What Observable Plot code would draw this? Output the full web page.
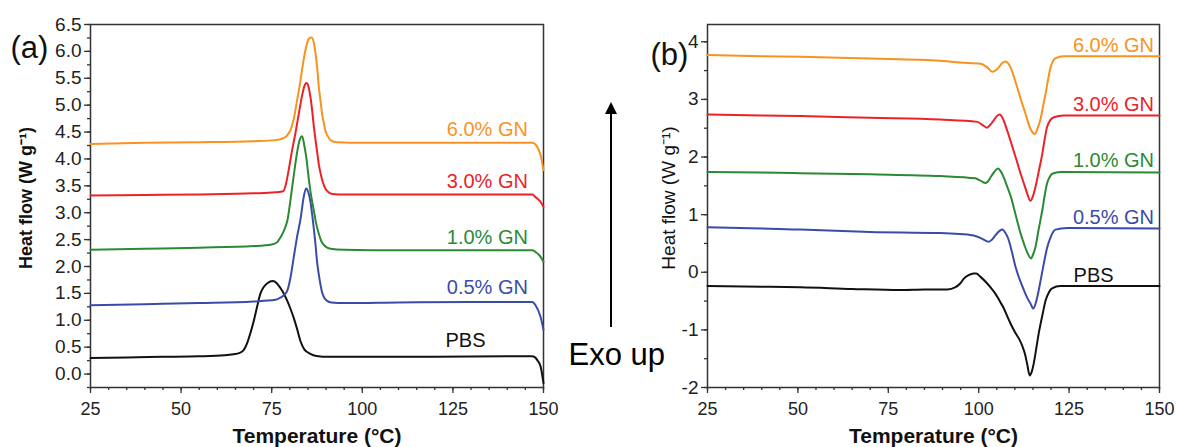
<!DOCTYPE html>
<html><head><meta charset="utf-8">
<script src="https://cdn.jsdelivr.net/npm/d3@7"></script>
<script src="https://cdn.jsdelivr.net/npm/@observablehq/plot@0.6"></script>
<style>
body{margin:0;background:#fff;}
#fig{position:relative;width:1178px;height:447px;font-family:"Liberation Sans",Arial,sans-serif;background:#fff;}
#left{position:absolute;left:0;top:0;}
#right{position:absolute;left:560px;top:0;}
#arrow-line{position:absolute;left:610px;top:112px;width:2px;height:215px;background:#000;}
#arrow-head{position:absolute;left:605px;top:102px;width:0;height:0;border-left:6px solid transparent;border-right:6px solid transparent;border-bottom:12px solid #000;}
</style></head>
<body><div id="fig"><div id="left"></div><div id="right"></div><div id="arrow-line"></div><div id="arrow-head"></div></div>
<script>
// ---------- data ----------
const seriesNames = ["PBS", "0.5% GN", "1.0% GN", "3.0% GN", "6.0% GN"];
const seriesColors = ["#111111", "#3a4ca8", "#2a8a35", "#ec2227", "#f7931e"];

const xTicks = [25, 50, 75, 100, 125, 150];
const xMinorTicks = [25,30,35,40,45,50,55,60,65,70,75,80,85,90,95,100,105,110,115,120,125,130,135,140,145,150];
const yTicksA = [0, 0.5, 1, 1.5, 2, 2.5, 3, 3.5, 4, 4.5, 5, 5.5, 6, 6.5];
const yMinorA = [-0.25,0,0.25,0.5,0.75,1,1.25,1.5,1.75,2,2.25,2.5,2.75,3,3.25,3.5,3.75,4,4.25,4.5,4.75,5,5.25,5.5,5.75,6,6.25,6.5];
const yTicksB = [-2, -1, 0, 1, 2, 3, 4];
const yMinorB = [-2,-1.5,-1,-0.5,0,0.5,1,1.5,2,2.5,3,3.5,4];

// (a) cooling curves: [temperature °C, heat flow W/g]
const aPBS = [[25,0.30],[35,0.31],[45,0.32],[55,0.33],[62,0.35],[64.5,0.37],[66,0.39],[67.2,0.44],[68.2,0.57],[69.2,0.78],[70.1,1.0],[71,1.26],[71.9,1.50],[72.8,1.62],[73.8,1.69],[75.3,1.73],[76.4,1.69],[77.4,1.60],[78.4,1.49],[79.3,1.36],[80.2,1.21],[81.1,1.04],[82,0.84],[83,0.60],[84,0.46],[85,0.40],[86.5,0.35],[88,0.33],[90,0.32],[100,0.32],[120,0.32],[140,0.33],[146.9,0.33],[148.3,0.26],[149.2,0.14],[150,-0.17]];
const a05 = [[25,1.28],[40,1.30],[55,1.32],[70,1.35],[76,1.38],[77.4,1.42],[78.4,1.47],[79.3,1.55],[80.2,1.80],[81.1,2.18],[82,2.55],[83,2.90],[83.8,3.28],[84.5,3.45],[85.1,3.38],[85.7,3.20],[86.2,2.95],[86.6,2.72],[87.1,2.40],[87.5,2.10],[88,1.85],[88.5,1.65],[88.9,1.52],[89.5,1.42],[90.3,1.36],[91.5,1.33],[95,1.32],[110,1.33],[130,1.34],[146.9,1.34],[147.8,1.28],[149.2,1.06],[150,0.82]];
const a10 = [[25,2.31],[40,2.33],[55,2.35],[70,2.38],[75,2.41],[76.5,2.45],[77.4,2.54],[78.2,2.64],[78.8,2.74],[79.4,2.88],[80.2,3.25],[81.1,3.70],[82,4.12],[82.7,4.35],[83.4,4.42],[84,4.25],[84.6,4.00],[85.2,3.65],[85.8,3.35],[86.6,3.05],[87.2,2.82],[88,2.61],[88.7,2.47],[89.4,2.40],[90.3,2.35],[91.2,2.33],[95,2.31],[110,2.30],[130,2.30],[146.9,2.30],[147.8,2.27],[149.2,2.18],[150,2.09]];
const a30 = [[25,3.32],[40,3.33],[55,3.34],[70,3.36],[76,3.38],[78.2,3.40],[78.8,3.50],[79.7,3.80],[80.6,4.15],[81.6,4.50],[82.5,4.85],[83.3,5.15],[84,5.35],[84.6,5.41],[85.2,5.33],[85.7,5.15],[86.2,4.88],[86.6,4.62],[87.1,4.35],[87.6,4.10],[88.0,3.90],[88.5,3.73],[89.1,3.57],[89.8,3.45],[90.7,3.38],[91.7,3.35],[95,3.34],[110,3.34],[130,3.34],[146.9,3.34],[147.8,3.29],[149.2,3.20],[150,3.11]];
const a60 = [[25,4.28],[40,4.30],[55,4.31],[70,4.33],[76,4.35],[78,4.38],[79.3,4.44],[80.2,4.54],[81.1,4.75],[82,5.09],[83,5.48],[83.7,5.80],[84.3,6.02],[85.2,6.23],[86,6.26],[86.6,6.17],[87.1,5.96],[87.6,5.66],[88,5.34],[88.5,5.06],[88.9,4.84],[89.4,4.66],[89.8,4.53],[90.5,4.42],[91.2,4.35],[93,4.31],[100,4.30],[120,4.30],[140,4.30],[146.9,4.30],[148.3,4.22],[149.2,4.07],[150,3.79]];

// (b) heating curves
const bPBS = [[25,-0.24],[40,-0.25],[50.7,-0.26],[65,-0.29],[78.4,-0.31],[85,-0.30],[91.3,-0.30],[93.6,-0.26],[94.8,-0.20],[95.9,-0.11],[97.2,-0.05],[98.6,-0.02],[99.3,-0.02],[100.5,-0.08],[102.3,-0.19],[103.5,-0.28],[104.6,-0.37],[106,-0.52],[106.9,-0.62],[108,-0.78],[108.8,-0.89],[110.2,-1.06],[111.2,-1.16],[112,-1.27],[112.8,-1.42],[113.4,-1.59],[114.1,-1.79],[114.7,-1.72],[115.2,-1.59],[115.9,-1.33],[116.6,-1.06],[117.6,-0.75],[118.5,-0.49],[119.4,-0.35],[120.3,-0.28],[122.6,-0.24],[150,-0.24]];
const b05 = [[25,0.78],[40,0.76],[50.7,0.74],[70,0.70],[89.4,0.68],[98.6,0.64],[101,0.58],[102.8,0.53],[103.7,0.57],[104.6,0.64],[105.6,0.71],[106.5,0.74],[107.4,0.68],[108.3,0.56],[109.2,0.35],[110.2,0.09],[111.3,-0.12],[112.5,-0.31],[113.4,-0.44],[114.3,-0.54],[115.1,-0.63],[115.7,-0.55],[116.2,-0.43],[117.1,-0.15],[118,0.15],[118.9,0.42],[119.9,0.61],[120.5,0.69],[121.2,0.74],[124.5,0.77],[150,0.76]];
const b10 = [[25,1.74],[40,1.73],[50.7,1.72],[70,1.70],[89.4,1.67],[99.1,1.63],[100.5,1.59],[101.9,1.55],[102.6,1.58],[103.3,1.65],[104.3,1.74],[105.3,1.80],[106.1,1.75],[106.9,1.65],[107.8,1.50],[108.8,1.33],[110.2,1.00],[111.6,0.67],[112.6,0.48],[113.6,0.32],[114.5,0.24],[115.1,0.32],[115.7,0.44],[116.6,0.75],[117.6,1.08],[118.3,1.35],[118.9,1.54],[119.6,1.65],[120.3,1.71],[122.6,1.74],[150,1.73]];
const b30 = [[25,2.74],[40,2.72],[50.7,2.71],[70,2.68],[89.4,2.65],[99.6,2.61],[101.2,2.55],[102.3,2.51],[103.2,2.56],[104.2,2.64],[105,2.71],[105.8,2.74],[106.6,2.68],[107.4,2.55],[108.3,2.38],[109.3,2.18],[110.5,1.94],[111.6,1.71],[112.5,1.54],[113.4,1.37],[114.3,1.24],[115,1.32],[115.7,1.48],[116.6,1.75],[117.6,2.06],[118.3,2.33],[118.9,2.52],[119.8,2.64],[120.8,2.69],[123.5,2.72],[150,2.72]];
const b60 = [[25,3.77],[40,3.75],[50.7,3.74],[70,3.71],[89.4,3.67],[95,3.64],[100.5,3.62],[102.3,3.56],[103.7,3.48],[104.6,3.50],[105.6,3.56],[106.5,3.63],[107.4,3.66],[108.1,3.63],[108.8,3.56],[109.7,3.40],[110.6,3.22],[111.7,2.99],[112.9,2.76],[114.3,2.49],[115.5,2.40],[116.3,2.50],[117.1,2.66],[117.8,2.88],[118.5,3.10],[119.2,3.35],[119.9,3.56],[120.5,3.66],[121.2,3.71],[123.5,3.75],[130,3.75],[150,3.75]];

// label anchors (right edge of text, vertical centre)
const labelsA = [["PBS",134.0,0.62],["0.5% GN",145.7,1.60],["1.0% GN",145.7,2.54],["3.0% GN",145.7,3.57],["6.0% GN",145.7,4.54]];
const labelsB = [["PBS",137.3,-0.06],["0.5% GN",148.5,0.95],["1.0% GN",148.5,1.93],["3.0% GN",148.5,2.91],["6.0% GN",148.5,3.94]];

// ---------- build ----------
const FONT = '"Liberation Sans", Arial, Helvetica, sans-serif';
const AX = "#333";
const rows = (list) => list.flatMap((arr, i) => arr.map(([T, v]) => ({T, v, series: seriesNames[i]})));
const rowsA = rows([aPBS, a05, a10, a30, a60]);
const rowsB = rows([bPBS, b05, b10, b30, b60]);
const labRows = (l) => l.map(([name, T, v]) => ({name, T, v}));

function panel({rowsD, labels, yDomain, yTicks, yMinor, yFmt, width, ml, mr, extra}) {
  return Plot.plot({
    width, height: 447,
    marginLeft: ml, marginRight: mr, marginTop: 24, marginBottom: 60,
    style: {fontFamily: FONT, background: "white", color: "#222", overflow: "visible"},
    x: {domain: [25, 150]},
    y: {domain: yDomain},
    color: {domain: seriesNames, range: seriesColors},
    marks: [
      Plot.axisX({ticks: xMinorTicks, tickSize: 3, tickFormat: () => "", label: null, stroke: AX, strokeWidth: 1.3}),
      Plot.axisX({ticks: xTicks, tickSize: 6, tickPadding: 9, fontSize: 18, label: null, stroke: AX, strokeWidth: 1.3, tickFormat: (d) => String(d)}),
      Plot.axisY({ticks: yMinor, tickSize: 3, tickFormat: () => "", label: null, stroke: AX, strokeWidth: 1.3}),
      Plot.axisY({ticks: yTicks, tickSize: 6, tickPadding: 3, fontSize: 19, label: null, stroke: AX, strokeWidth: 1.3, tickFormat: yFmt}),
      Plot.frame({stroke: AX, strokeWidth: 1.5}),
      Plot.line(rowsD, {x: "T", y: "v", z: "series", stroke: "series", strokeWidth: 2, curve: "monotone-x"}),
      Plot.text(labRows(labels), {x: "T", y: "v", text: "name", fill: (d) => d.name, fontSize: 20, textAnchor: "end", lineAnchor: "middle"}),
      Plot.text(["Temperature (°C)"], {text: (d) => d, frameAnchor: "bottom", dy: 49, fontSize: 21, fontWeight: "bold", fill: "#111", lineAnchor: "middle"}),
      ...extra
    ]
  });
}

const left = panel({
  rowsD: rowsA, labels: labelsA, yDomain: [-0.25, 6.5], yTicks: yTicksA, yMinor: yMinorA,
  yFmt: d3.format(".1f"), width: 560, ml: 90, mr: 17,
  extra: [
    Plot.text(["Heat flow (W g⁻¹)"], {text: (d) => d, frameAnchor: "left", rotate: -90, dx: -64, dy: -8, fontSize: 18, fontWeight: "bold", fill: "#111", textAnchor: "middle", lineAnchor: "middle"}),
    Plot.text(["(a)"], {text: (d) => d, frameAnchor: "top-left", dx: -80, dy: 24, fontSize: 31, textAnchor: "start", lineAnchor: "middle", fill: "#111"})
  ]
});
const right = panel({
  rowsD: rowsB, labels: labelsB, yDomain: [-2, 4.3], yTicks: yTicksB, yMinor: yMinorB,
  yFmt: (d) => String(d), width: 618, ml: 147, mr: 19,
  extra: [
    Plot.text(["Heat flow (W g⁻¹)"], {text: (d) => d, frameAnchor: "left", rotate: -90, dx: -38.5, dy: -8, fontSize: 19, fill: "#111", textAnchor: "middle", lineAnchor: "middle"}),
    Plot.text(["(b)"], {text: (d) => d, frameAnchor: "top-left", dx: -57, dy: 30.5, fontSize: 31, textAnchor: "start", lineAnchor: "middle", fill: "#111"}),
    Plot.text(["Exo up"], {text: (d) => d, frameAnchor: "top-left", dx: -139, dy: 331, fontSize: 31, textAnchor: "start", lineAnchor: "middle", fill: "#000"})
  ]
});
document.getElementById("left").appendChild(left);
document.getElementById("right").appendChild(right);
</script>
</body></html>
